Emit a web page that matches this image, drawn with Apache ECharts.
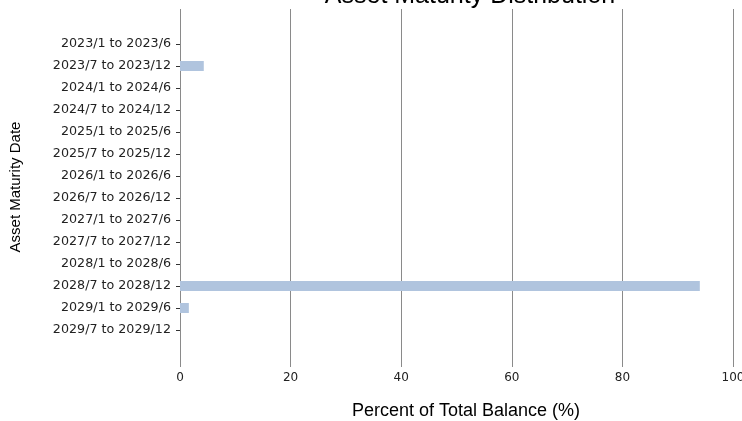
<!DOCTYPE html>
<html>
<head>
<meta charset="utf-8">
<script src="https://cdn.jsdelivr.net/npm/echarts@6/dist/echarts.min.js"></script>
<style>
  html, body {margin: 0; padding: 0; background: #fff;}
  #chart {width: 742px; height: 421px;}
</style>
</head>
<body>
<div id="chart"></div>
<script>
const periods = [
  '2023/1 to 2023/6', '2023/7 to 2023/12',
  '2024/1 to 2024/6', '2024/7 to 2024/12',
  '2025/1 to 2025/6', '2025/7 to 2025/12',
  '2026/1 to 2026/6', '2026/7 to 2026/12',
  '2027/1 to 2027/6', '2027/7 to 2027/12',
  '2028/1 to 2028/6', '2028/7 to 2028/12',
  '2029/1 to 2029/6', '2029/7 to 2029/12'
];
const pctBalance = [0, 4.3, 0, 0, 0, 0, 0, 0, 0, 0, 0, 94.0, 1.6, 0];
const xTicks = [0, 20, 40, 60, 80, 100];

const labelFont = 'DejaVu Sans';
const plainFont = 'Liberation Sans';

const chart = echarts.init(document.getElementById('chart'), null, {renderer: 'canvas'});

chart.setOption({
  animation: false,
  title: {
    text: 'Asset Maturity Distribution',
    left: 465,
    textAlign: 'center',
    top: -21,
    textStyle: {fontFamily: plainFont, fontSize: 25, fontWeight: 'normal', color: '#000'}
  },
  grid: [
    // full-height grid: carries the vertical lines and the x labels
    {left: 180, right: 9, top: 9, bottom: 54, outerBoundsMode: 'none'},
    // bar grid: the 14 periods sit inside it
    {left: 180, right: 9, top: 33, height: 308, outerBoundsMode: 'none'}
  ],
  xAxis: [
    {
      gridIndex: 0,
      type: 'value',
      min: xTicks[0],
      max: xTicks[xTicks.length - 1],
      interval: xTicks[1] - xTicks[0],
      axisLine: {show: false},
      axisTick: {show: false},
      splitLine: {show: true, lineStyle: {color: '#8a8a8a', width: 1}},
      axisLabel: {margin: 5, fontFamily: labelFont, fontSize: 12, color: '#222'},
      name: 'Percent of Total Balance (%)',
      nameLocation: 'middle',
      nameGap: 35,
      nameTextStyle: {fontFamily: plainFont, fontSize: 18, color: '#000', padding: [0, 0, 0, 19]}
    },
    {
      gridIndex: 1,
      type: 'value',
      min: xTicks[0],
      max: xTicks[xTicks.length - 1],
      show: false
    }
  ],
  yAxis: [
    {
      gridIndex: 0,
      type: 'value',
      show: false
    },
    {
      gridIndex: 1,
      type: 'category',
      data: periods,
      inverse: true,
      axisLine: {show: false},
      axisTick: {show: true, alignWithLabel: true, length: 4, lineStyle: {color: '#333'}},
      splitLine: {show: false},
      axisLabel: {margin: 9, fontFamily: labelFont, fontSize: 12.7, color: '#222'},
      name: 'Asset Maturity Date',
      nameLocation: 'middle',
      nameGap: 157,
      nameRotate: 90,
      nameTextStyle: {fontFamily: plainFont, fontSize: 15, color: '#000'}
    }
  ],
  series: [
    {
      type: 'bar',
      xAxisIndex: 1,
      yAxisIndex: 1,
      data: pctBalance,
      barWidth: 10,
      itemStyle: {color: '#b0c4de'}
    }
  ]
});
</script>
</body>
</html>
